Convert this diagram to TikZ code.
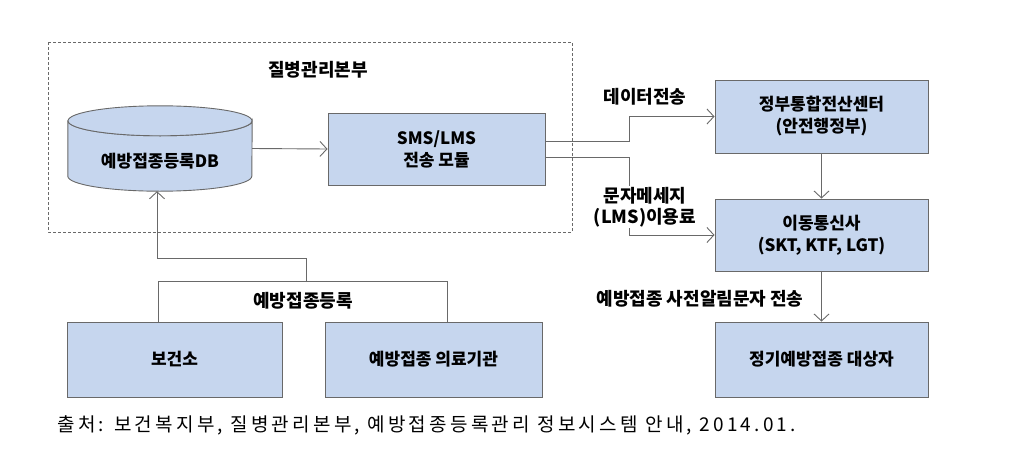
\documentclass[tikz,border=0pt]{standalone}
\usepackage{fontspec}
\setmainfont{Noto Sans CJK KR}
\usetikzlibrary{arrows.meta,positioning}
\definecolor{boxblue}{RGB}{198,214,238}
\definecolor{linegray}{RGB}{105,105,105}

\begin{document}
\begin{tikzpicture}[x=1pt,y=-1pt,
  unit/.style={rectangle,draw=linegray,line width=0.9pt,fill=boxblue,minimum width=215pt,minimum height=73pt,align=center,font=\bfseries\fontsize{17}{22}\selectfont},
  store/.style={rectangle,minimum width=184pt,minimum height=85pt},
  drum/.style={draw=linegray,line width=0.9pt,fill=boxblue},
  edge/.style={draw=linegray,line width=0.9pt,->,>={Straight Barb[length=7pt,width=15pt]}},
  link/.style={draw=linegray,line width=0.9pt},
  blank/.style={align=center,font=\bfseries\fontsize{18}{21}\selectfont},
  group/.style={draw=linegray,line width=0.8pt,dash pattern=on 3pt off 2pt}]
\useasboundingbox (0,0) rectangle (1017,450);

% organisation frame
\draw [group] (48,42) rectangle (572,232);
\node (kcdc)[blank] at (318,70) {질병관리본부};

% database drum
\node (db)[store] at (160,148.5) {};
\draw [drum] (db.north west) ++(0,15) -- ([yshift=15pt]db.south west)
  arc[start angle=180,end angle=0,x radius=92,y radius=15]
  -- ([yshift=-15pt]db.north east)
  arc[start angle=0,end angle=180,x radius=92,y radius=15] -- cycle;
\draw [drum] ([yshift=-15pt]db.north) ellipse[x radius=92,y radius=15];
\node (dbname)[font=\bfseries\fontsize{17}{22}\selectfont] at ([yshift=-13pt]db.center) {예방접종등록DB};

\node (sms)[unit,minimum width=217pt,minimum height=72pt] at (436.5,149) {SMS/LMS\\전송 모듈};
\node (gov)[unit,minimum width=213pt] at (821.5,116.5) {정부통합전산센터\\(안전행정부)};
\node (mob)[unit,minimum width=213pt,minimum height=72pt] at (821.5,235) {이동통신사\\(SKT, KTF, LGT)};
\node (target)[unit,minimum width=213pt,minimum height=75pt] at (821.5,359.5) {정기예방접종 대상자};
\node (health)[unit,minimum height=75pt] at (174.5,359.5) {보건소};
\node (clinic)[unit,minimum width=217pt,minimum height=75pt] at (433.5,359.5) {예방접종 의료기관};

\draw [edge] (db.east) to (sms.west);
\draw [edge] ([yshift=8pt]sms.east) -- ++(84,0) |- (gov.west);
\draw [edge] ([yshift=-8pt]sms.east) -- ++(84,0) |- (mob.west);
\draw [edge] (gov) to (mob);
\draw [edge] (mob) to (target);

\draw [link] ([xshift=-16.5pt]health.north) -- ++(0,-40) -| ([xshift=13.5pt]clinic.north);
\coordinate (reg) at (306,282);
\draw [edge] (reg) -- ++(0,-24) -| ([xshift=-3pt]db.south);

\node (send)[blank] at (645,97) {데이터전송};
\node (fee)[blank,fill=white,inner sep=1pt] at (645,207) {문자메세지\\(LMS)이용료};
\node (notice)[blank] at (700,299) {예방접종 사전알림문자 전송};
\node (enrol)[blank] at (303,301) {예방접종등록};

\node (source)[anchor=west,font=\addfontfeature{LetterSpace=17}\fontsize{19}{22}\selectfont] at (54,425) {출처: 보건복지부, 질병관리본부, 예방접종등록관리 정보시스템 안내, 2014.01.};
\end{tikzpicture}
\end{document}
